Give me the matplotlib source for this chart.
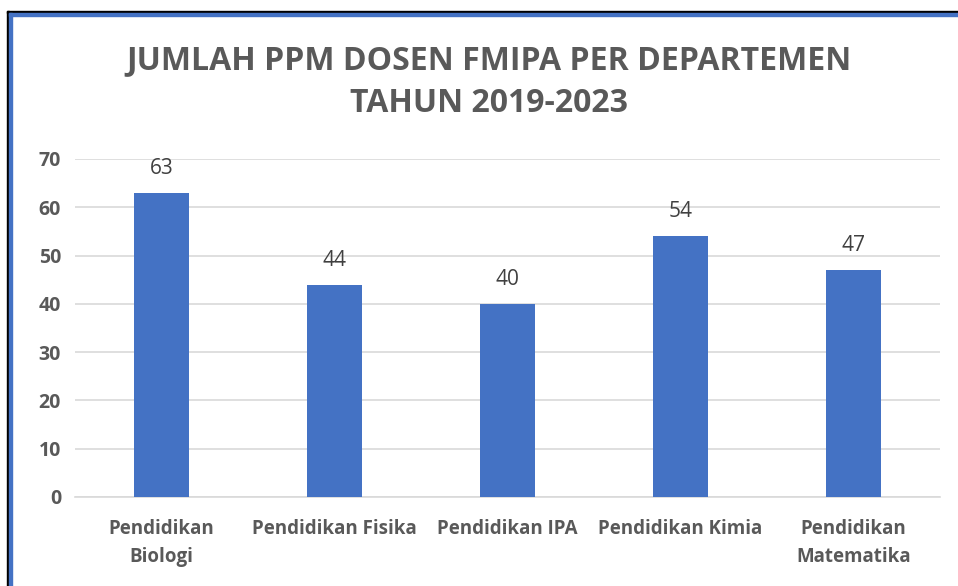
import matplotlib
matplotlib.use("Agg")
import matplotlib.pyplot as plt
from matplotlib.patches import Rectangle

categories = ["Pendidikan\nBiologi", "Pendidikan Fisika", "Pendidikan IPA", "Pendidikan Kimia", "Pendidikan\nMatematika"]
values = [63, 44, 40, 54, 47]
yticks = [0, 10, 20, 30, 40, 50, 60, 70]
title = "JUMLAH PPM DOSEN FMIPA PER DEPARTEMEN\nTAHUN 2019-2023"

W, H = 958, 586
fig = plt.figure(figsize=(W / 100, H / 100), dpi=100)
fig.patch.set_facecolor("white")

# frame lines (black outer, blue inner) on left and top
fig.patches.append(Rectangle((7 / W, 0), 2 / W, 1 - 11 / H, transform=fig.transFigure, color="black", zorder=5))
fig.patches.append(Rectangle((7 / W, 1 - 13 / H), 1 - 7 / W, 2 / H, transform=fig.transFigure, color="black", zorder=5))
fig.patches.append(Rectangle((9 / W, 0), 3 / W, 1 - 13 / H, transform=fig.transFigure, color="#4472C4", zorder=5))
fig.patches.append(Rectangle((9 / W, 1 - 16 / H), 1 - 9 / W, 3 / H, transform=fig.transFigure, color="#4472C4", zorder=5))

ax = fig.add_axes([75 / W, 1 - 497 / H, (940 - 75) / W, (497 - 159) / H])
x = list(range(len(categories)))
bars = ax.bar(x, values, width=0.32, color="#4472C4", zorder=3)
ax.set_xlim(-0.5, len(categories) - 0.5)
ax.set_ylim(0, 70)
ax.set_yticks(yticks)
ax.set_yticklabels([str(t) for t in yticks], fontsize=14, color="#595959", fontweight="bold", family="Open Sans")
ax.set_xticks(x)
ax.set_xticklabels(categories, fontsize=13.5, color="#595959", fontweight="bold", family="Open Sans", linespacing=1.55)
ax.tick_params(axis="both", length=0)
ax.tick_params(axis="y", pad=10)
ax.tick_params(axis="x", pad=16)
ax.grid(axis="y", color="#D9D9D9", linewidth=1.2, zorder=0)
for s in ["top", "right", "left"]:
    ax.spines[s].set_visible(False)
ax.spines["bottom"].set_color("#D9D9D9")
ax.spines["bottom"].set_linewidth(1.2)

for xi, v in zip(x, values):
    ax.annotate(str(v), (xi, v), xytext=(0, 10), textcoords="offset points", ha="center", va="bottom",
                fontsize=15, color="#404040", family="Open Sans")

fig.text(489 / W, 1 - 82 / H, title, ha="center", va="center", fontsize=23, fontweight="bold",
         color="#595959", family="Open Sans", linespacing=1.4)

fig.savefig("out.png", dpi=100)
